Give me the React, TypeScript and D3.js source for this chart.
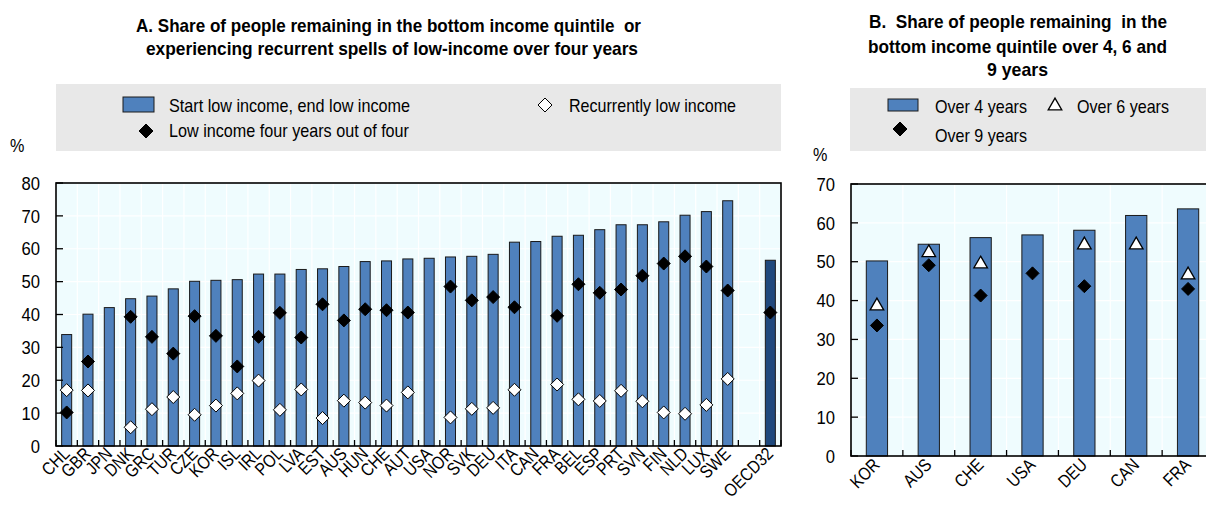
import React from "react";
import * as d3 from "d3";

const categoriesA = ["CHL","GBR","JPN","DNK","GRC","TUR","CZE","KOR","ISL","IRL","POL","LVA","EST","AUS","HUN","CHE","AUT","USA","NOR","SVK","DEU","ITA","CAN","FRA","BEL","ESP","PRT","SVN","FIN","NLD","LUX","SWE",""," OECD32"];
const startEndLow: (number | null)[] = [33.9,40.1,42.1,44.8,45.6,47.8,50.1,50.4,50.6,52.3,52.3,53.7,53.9,54.6,56.1,56.3,56.9,57.1,57.5,57.7,58.3,62.0,62.2,63.8,64.1,65.8,67.3,67.3,68.2,70.2,71.3,74.6,null,56.5];
const fourOfFour: (number | null)[] = [10.2,25.7,null,39.3,33.2,28.1,39.5,33.5,24.2,33.2,40.5,33.0,43.1,38.2,41.6,41.3,40.6,null,48.5,44.3,45.3,42.2,null,39.6,49.2,46.6,47.6,51.8,55.5,57.7,54.6,47.3,null,40.6];
const recurrentLow: (number | null)[] = [17.0,16.9,null,5.7,11.2,14.9,9.5,12.3,16.0,19.9,11.0,17.2,8.5,13.8,13.2,12.3,16.3,null,8.7,11.3,11.6,17.1,null,18.7,14.2,13.7,16.8,13.6,10.2,9.8,12.5,20.4,null,null];
const ticksA = [0,10,20,30,40,50,60,70,80];

const categoriesB = ["KOR","AUS","CHE","USA","DEU","CAN","FRA"];
const over4: (number | null)[] = [50.2,54.5,56.2,56.9,58.1,61.9,63.6];
const over6: (number | null)[] = [38.6,52.3,49.4,null,54.3,54.3,46.6];
const over9: (number | null)[] = [33.6,49.1,41.3,47.0,43.7,null,43.0];
const ticksB = [0,10,20,30,40,50,60,70];

const FONT = "'Liberation Sans', Arial, sans-serif";
const BLUE = "#4f81bd";
const DARK = "#1f497d";
const BG = "#effcfe";
const LEG = "#e8e8e8";

const diamond = (x: number, y: number, fill: string, key: string, r = 6.5) => (
  <path key={key} d={`M${x},${y - r}L${x + r},${y}L${x},${y + r}L${x - r},${y}Z`} fill={fill} stroke="#000" strokeWidth={1} />
);
const triangle = (x: number, y: number, key: string) => {
  const p = d3.symbol(d3.symbolTriangle, 80)();
  return <path key={key} d={p as string} transform={`translate(${x},${y})`} fill="#fff" stroke="#000" strokeWidth={1.3} />;
};

function Panel(props: {
  cats: string[]; left: number; right: number; top: number; bottom: number; max: number; ticks: number[];
  bars: (number | null)[]; barPad: number; yLabelX: number; labelDx: number; labelY: number;
  children: (x: d3.ScaleBand<string>, y: d3.ScaleLinear<number, number>) => React.ReactNode;
}) {
  const { cats, left, right, top, bottom, max, ticks, bars } = props;
  const x = d3.scaleBand<string>().domain(cats).range([left, right]).paddingInner(props.barPad).paddingOuter(props.barPad / 2);
  const y = d3.scaleLinear().domain([0, max]).range([bottom, top]);
  const step = x.step();
  const bounds = d3.range(cats.length + 1).map(i => left + i * step);
  return (
    <g>
      <rect x={left} y={top} width={right - left} height={bottom - top} fill={BG} />
      {ticks.map(t => <line key={"h" + t} x1={left} x2={right} y1={y(t)} y2={y(t)} stroke="#fff" strokeWidth={1.2} />)}
      {bounds.map((b, i) => <line key={"v" + i} x1={b} x2={b} y1={top} y2={bottom} stroke="#fff" strokeWidth={1.2} />)}
      {cats.map((c, i) => bars[i] == null ? null : (
        <rect key={"b" + i} x={x(c)!} y={y(bars[i] as number)} width={x.bandwidth()} height={bottom - y(bars[i] as number)}
          fill={c.trim() === "OECD32" ? DARK : BLUE} stroke="#1a1a1a" strokeWidth={1} />
      ))}
      {props.children(x, y)}
      {ticks.map(t => <line key={"yt" + t} x1={left} x2={left + 7} y1={y(t)} y2={y(t)} stroke="#000" strokeWidth={1.3} />)}
      {bounds.map((b, i) => <line key={"xt" + i} x1={b} x2={b} y1={bottom} y2={bottom - 6} stroke="#000" strokeWidth={1.3} />)}
      <rect x={left} y={top} width={right - left} height={bottom - top} fill="none" stroke="#000" strokeWidth={1.6} />
      {ticks.map(t => (
        <text key={"yl" + t} transform={`translate(${props.yLabelX},${y(t)}) scale(0.9,1)`} dy="0.36em" textAnchor="end"
          fontSize={18.5} fontFamily={FONT} fill="#000">{t}</text>
      ))}
      {cats.map((c, i) => (
        <text key={"xl" + i} transform={`translate(${x(c)! + x.bandwidth() / 2 + props.labelDx},${props.labelY}) rotate(-45) scale(0.85,1)`} textAnchor="end"
          fontSize={18} fontFamily={FONT} fill="#000">{c.trim()}</text>
      ))}
    </g>
  );
}

export default function App() {
  const pre = { whiteSpace: "pre" as const };
  return (
    <div style={{ position: "absolute", left: 0, top: 0 }}>
      <svg width={1206} height={507} style={{ display: "block", background: "#fff" }}>
        <g fontFamily={FONT} fontWeight="bold" fontSize={18.5} fill="#000">
          <text style={pre} x={136} y={32} textLength={505} lengthAdjust="spacingAndGlyphs">A. Share of people remaining in the bottom income quintile  or</text>
          <text style={pre} x={146} y={55} textLength={492} lengthAdjust="spacingAndGlyphs">experiencing recurrent spells of low-income over four years</text>
          <text style={pre} x={869} y={28} textLength={298} lengthAdjust="spacingAndGlyphs">B.  Share of people remaining  in the</text>
          <text style={pre} x={868} y={53} textLength={299} lengthAdjust="spacingAndGlyphs">bottom income quintile over 4, 6 and</text>
          <text style={pre} x={987} y={76} textLength={61} lengthAdjust="spacingAndGlyphs">9 years</text>
        </g>

        <rect x={56} y={84} width={725} height={67} fill={LEG} />
        <rect x={123} y={97} width={31} height={15} fill={BLUE} stroke="#1a1a1a" strokeWidth={1} />
        <text x={169} y={112} fontSize={18.5} fontFamily={FONT} textLength={241} lengthAdjust="spacingAndGlyphs">Start low income, end low income</text>
        {diamond(146, 131, "#000", "lgA1", 7)}
        <text x={169} y={137} fontSize={18.5} fontFamily={FONT} textLength={240} lengthAdjust="spacingAndGlyphs">Low income four years out of four</text>
        {diamond(545, 105, "#fff", "lgA2", 7)}
        <text x={569} y={112} fontSize={18.5} fontFamily={FONT} textLength={167} lengthAdjust="spacingAndGlyphs">Recurrently low income</text>
        <text x={10} y={152} fontSize={18} fontFamily={FONT} transform="translate(10,152) scale(0.9,1) translate(-10,-152)">%</text>

        <Panel cats={categoriesA} left={56} right={781} top={183} bottom={446} max={80} ticks={ticksA} bars={startEndLow}
          barPad={0.53} yLabelX={40} labelDx={4} labelY={455}>
          {(x, y) => (
            <g>
              {categoriesA.map((c, i) => fourOfFour[i] == null ? null : diamond(x(c)! + x.bandwidth() / 2, y(fourOfFour[i] as number), "#000", "fd" + i))}
              {categoriesA.map((c, i) => recurrentLow[i] == null ? null : diamond(x(c)! + x.bandwidth() / 2, y(recurrentLow[i] as number), "#fff", "rd" + i))}
            </g>
          )}
        </Panel>

        <rect x={850} y={88} width={364} height={63} fill={LEG} />
        <rect x={888} y={99} width={30} height={12} fill={BLUE} stroke="#1a1a1a" strokeWidth={1} />
        <text x={935} y={113} fontSize={18.5} fontFamily={FONT} textLength={92} lengthAdjust="spacingAndGlyphs">Over 4 years</text>
        {triangle(1055, 106, "lgB2")}
        <text x={1077} y={113} fontSize={18.5} fontFamily={FONT} textLength={92} lengthAdjust="spacingAndGlyphs">Over 6 years</text>
        {diamond(900, 129, "#000", "lgB3", 7)}
        <text x={935} y={142} fontSize={18.5} fontFamily={FONT} textLength={92} lengthAdjust="spacingAndGlyphs">Over 9 years</text>
        <text x={813} y={161} fontSize={18} fontFamily={FONT} transform="translate(813,161) scale(0.9,1) translate(-813,-161)">%</text>

        <Panel cats={categoriesB} left={851} right={1214} top={184} bottom={456} max={70} ticks={ticksB} bars={over4}
          barPad={0.59} yLabelX={835} labelDx={4} labelY={466}>
          {(x, y) => (
            <g>
              {categoriesB.map((c, i) => over9[i] == null ? null : diamond(x(c)! + x.bandwidth() / 2, y(over9[i] as number), "#000", "o9" + i))}
              {categoriesB.map((c, i) => over6[i] == null ? null : triangle(x(c)! + x.bandwidth() / 2, y(over6[i] as number), "o6" + i))}
            </g>
          )}
        </Panel>
      </svg>
    </div>
  );
}
